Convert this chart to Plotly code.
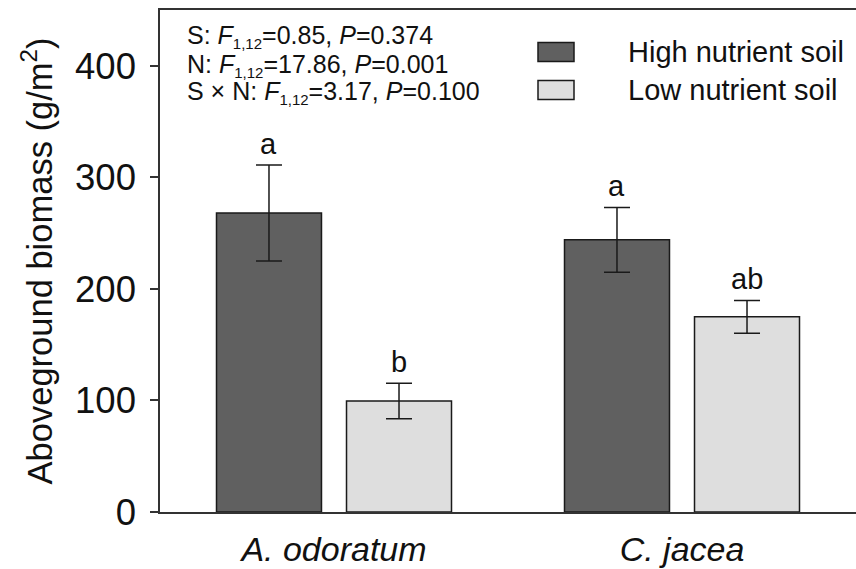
import plotly.graph_objects as go

species = ["<i>A. odoratum</i>", "<i>C. jacea</i>"]
high_vals = [268, 244]
high_err = [43, 29]
low_vals = [99.5, 175]
low_err = [16, 14.7]
high_letters = ["a", "a"]
low_letters = ["b", "ab"]
series_names = ["High nutrient soil", "Low nutrient soil"]
y_ticks = [0, 100, 200, 300, 400]
SUB = "<sub><span style='font-size:15px'>1,12</span></sub>"
stats_lines = [
    "S: <i>F</i>" + SUB + "=0.85, <i>P</i>=0.374",
    "N: <i>F</i>" + SUB + "=17.86, <i>P</i>=0.001",
    "S × N: <i>F</i>" + SUB + "=3.17, <i>P</i>=0.100",
]

FONT = "Liberation Sans, Arial, sans-serif"
DARK = "#606060"
LIGHT = "#dedede"
LINE = "#1a1a1a"

W, H = 856, 569
ML, MR, MT, MB = 160, 0, 10, 57
pw, ph = W - ML - MR, H - MT - MB


def px_x(x):
    return (x - ML) / pw


def px_y(y):
    return 1 - (y - MT) / ph


fig = go.Figure()
for name, vals, errs, color in [
    (series_names[0], high_vals, high_err, DARK),
    (series_names[1], low_vals, low_err, LIGHT),
]:
    fig.add_trace(go.Bar(
        x=list(range(len(species))), y=vals, name=name,
        marker=dict(color=color, line=dict(color=LINE, width=1.5)),
        error_y=dict(type="data", array=errs, visible=True, color=LINE, thickness=1.5, width=13),
        showlegend=False,
    ))

# significance letters (centred over each bar of the group)
slot = 0.3736
for i in range(len(species)):
    for letters, vals, errs, off in [
        (high_letters, high_vals, high_err, -slot / 2),
        (low_letters, low_vals, low_err, slot / 2),
    ]:
        fig.add_annotation(
            x=i + off, y=vals[i] + errs[i], xref="x", yref="y",
            text=letters[i], showarrow=False, yanchor="bottom", yshift=3,
            font=dict(family=FONT, size=29, color="#111"),
        )

# stats text
for k, line in enumerate(stats_lines):
    fig.add_annotation(
        x=px_x(185), y=px_y(37 + 28 * k), xref="paper", yref="paper", text=line,
        showarrow=False, xanchor="left", yanchor="middle",
        font=dict(family=FONT, size=25, color="#111"),
    )

# custom legend
legend_y = [52, 90]
for k, (name, color) in enumerate(zip(series_names, [DARK, LIGHT])):
    yc = legend_y[k]
    fig.add_shape(type="rect", xref="paper", yref="paper",
                  x0=px_x(538), x1=px_x(574),
                  y0=px_y(yc - 9.5), y1=px_y(yc + 9.5),
                  fillcolor=color, line=dict(color=LINE, width=1.5))
    fig.add_annotation(x=px_x(626), y=px_y(yc), xref="paper", yref="paper",
                       text=name, showarrow=False, xanchor="left", yanchor="middle",
                       font=dict(family=FONT, size=29, color="#111"))

fig.update_layout(
    width=W, height=H,
    margin=dict(l=ML, r=MR, t=MT, b=MB, autoexpand=False),
    paper_bgcolor="white", plot_bgcolor="white",
    barmode="group", bargap=1 - 2 * slot, bargroupgap=0.1925,
    font=dict(family=FONT, color="#111"),
    xaxis=dict(
        range=[-0.5, 1.5], tickmode="array", tickvals=list(range(len(species))),
        ticktext=species, showline=True, linecolor="#333", linewidth=1.5, mirror=True,
        ticks="", showgrid=False, zeroline=False,
        tickfont=dict(family=FONT, size=34, color="#111"), ticklabelstandoff=6,
    ),
    yaxis=dict(
        range=[0, 450], tickmode="array", tickvals=y_ticks,
        showline=True, linecolor="#333", linewidth=1.5, ticks="outside", ticklen=8,
        tickwidth=1.5, tickcolor="#333", showgrid=False, zeroline=False,
        tickfont=dict(family=FONT, size=36.5, color="#111"), ticklabelstandoff=7,
        title=dict(text="Aboveground biomass (g/m<sup>2</sup>)", standoff=12,
                   font=dict(family=FONT, size=34.5, color="#111")),
    ),
)

fig.write_html("out.html", config={"displayModeBar": False},
               post_script="document.body.style.margin='0px';")
